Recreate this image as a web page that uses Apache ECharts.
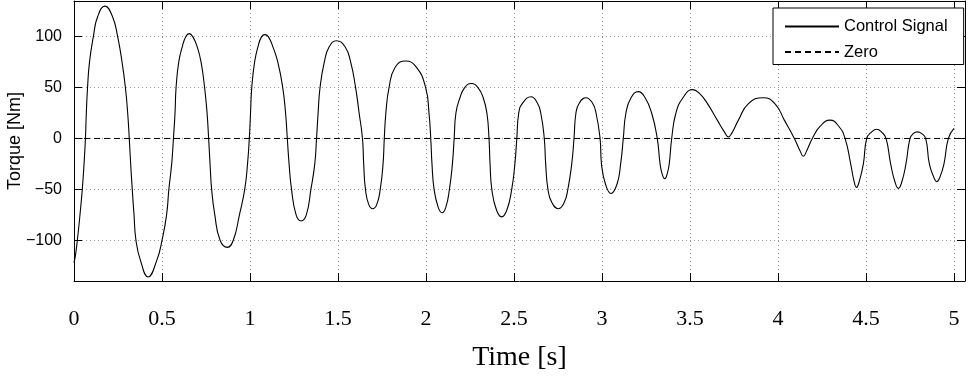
<!DOCTYPE html>
<html>
<head>
<meta charset="utf-8">
<script src="https://cdn.jsdelivr.net/npm/echarts@6/dist/echarts.min.js"></script>
<style>
html,body{margin:0;padding:0;background:#fff;}
#chart{width:973px;height:382px;}
</style>
</head>
<body>
<div id="chart"></div>
<script>
// Control signal samples (time in s, torque in Nm)
var timeS = [
0.000,0.008,0.019,0.034,0.047,0.057,0.065,0.070,0.077,0.088,0.110,0.135,0.176,0.218,0.248,0.273,0.292,0.305,0.314,0.322,0.331,0.341,0.352,0.378,0.421,0.470,0.500,0.526,0.539,0.555,0.565,0.574,0.580,0.595,0.615,0.635,0.655,0.675,0.700,0.722,0.742,0.756,0.765,0.773,0.782,0.800,0.830,0.871,0.905,0.940,0.970,0.986,0.996,1.003,1.010,1.026,1.045,1.066,1.085,1.104,1.130,1.158,1.186,1.202,1.212,1.222,1.236,1.262,1.290,1.320,1.346,1.368,1.378,1.387,1.398,1.422,1.450,1.491,1.540,1.572,1.600,1.620,1.639,1.646,1.656,1.675,1.697,1.720,1.740,1.756,1.763,1.772,1.790,1.825,1.884,1.945,1.998,2.017,2.027,2.034,2.046,2.070,2.091,2.112,2.133,2.150,2.160,2.170,2.193,2.220,2.257,2.295,2.325,2.346,2.358,2.364,2.374,2.400,2.430,2.460,2.487,2.505,2.516,2.527,2.550,2.597,2.632,2.652,2.672,2.680,2.693,2.715,2.752,2.785,2.806,2.828,2.841,2.852,2.872,2.909,2.945,2.966,2.989,2.997,3.020,3.051,3.085,3.106,3.121,3.136,3.165,3.207,3.245,3.282,3.314,3.330,3.342,3.357,3.370,3.382,3.396,3.420,3.460,3.515,3.555,3.600,3.655,3.697,3.718,3.740,3.775,3.831,3.917,3.983,4.036,4.093,4.125,4.144,4.163,4.195,4.240,4.295,4.345,4.381,4.413,4.432,4.446,4.462,4.485,4.504,4.530,4.561,4.590,4.614,4.640,4.665,4.684,4.703,4.727,4.750,4.770,4.792,4.815,4.839,4.860,4.885,4.902,4.920,4.943,4.968,5.000
];
var torqueNm = [
-122,-115,-100,-75,-50,-25,0,25,50,75,100,120,130,120,100,75,50,25,0,-25,-50,-75,-100,-120,-136,-120,-100,-75,-50,-25,0,25,50,75,90,100,103,100,90,75,50,25,0,-25,-50,-75,-100,-107,-100,-75,-50,-25,0,25,50,75,90,100,102,100,90,75,50,25,0,-25,-50,-75,-81,-75,-50,-25,0,25,50,75,90,96,90,75,50,25,0,-25,-50,-65,-69,-65,-50,-25,0,25,50,70,76,70,50,25,0,-25,-50,-68,-73,-68,-50,-25,0,25,40,50,54,50,40,25,0,-25,-50,-70,-77,-70,-50,-25,0,25,35,41,35,25,0,-25,-50,-63,-69,-63,-50,-25,0,25,35,40,35,25,0,-25,-45,-54,-45,-25,0,25,40,46,40,25,0,-25,-35,-39.5,-35,-25,0,25,40,48,44,34,18,6,1.5,6,18,34,40,34,18,0,-12,-17.5,-12,0,12,18,12,0,-25,-42,-48,-42,-25,0,6,9,6,0,-25,-43,-49,-43,-25,0,5,6.5,5,0,-25,-38,-42.5,-38,-25,0,9.8
];
// Zero reference line
var zeroTime = [0, 5.0625];
var zeroValue = [0, 0];
// Axis ranges and tick labels
var xRange = [0, 5.0625];
var yRange = [-140, 135];
var xTickLabels = ['0','0.5','1','1.5','2','2.5','3','3.5','4','4.5','5'];
var yTickLabels = ['\u2212100','\u221250','0','50','100'];
var xTickValues = [0,0.5,1,1.5,2,2.5,3,3.5,4,4.5,5];
var yTickValues = [-100,-50,0,50,100];

function pair(a, b) { return a.map(function (v, i) { return [v, b[i]]; }); }
function labelFor(values, labels) {
  return function (v) {
    for (var i = 0; i < values.length; i++) if (Math.abs(values[i] - v) < 1e-9) return labels[i];
    return '';
  };
}

var chart = echarts.init(document.getElementById('chart'), null, {renderer: 'canvas'});
var gridLine = {show: true, lineStyle: {color: '#9a9a9a', width: 1, type: [1, 3]}};
var frame = {show: true, onZero: false, lineStyle: {color: '#000', width: 1}};
var ticksIn = {show: true, inside: true, length: 8, lineStyle: {color: '#000', width: 1}};

chart.setOption({
  animation: false,
  backgroundColor: '#fff',
  grid: {left: 74, right: 8, top: 1, bottom: 101, containLabel: false, outerBoundsMode: 'none'},
  legend: {
    orient: 'vertical', left: 773, top: 8,
    padding: [10, 16, 4, 11],
    itemWidth: 54, itemHeight: 16, itemGap: 8.5,
    itemStyle: {opacity: 0},
    backgroundColor: '#fff', borderColor: '#000', borderWidth: 1, borderRadius: 0,
    textStyle: {fontFamily: 'Liberation Sans, Arial, sans-serif', fontSize: 16.5, color: '#000', lineHeight: 16},
    data: ['Control Signal', 'Zero']
  },
  xAxis: [{
    type: 'value', min: xRange[0], max: xRange[1], splitNumber: 10,
    position: 'bottom',
    axisLine: frame, axisTick: ticksIn, splitLine: gridLine,
    axisLabel: {show: true, margin: 27, showMaxLabel: false, color: '#000',
      fontFamily: 'Liberation Serif, Times New Roman, serif', fontSize: 22,
      formatter: labelFor(xTickValues, xTickLabels)},
    name: 'Time [s]', nameLocation: 'middle', nameGap: 63, nameMoveOverlap: false,
    nameTextStyle: {fontFamily: 'Liberation Serif, Times New Roman, serif', fontSize: 28, color: '#000'}
  }, {
    type: 'value', min: xRange[0], max: xRange[1], splitNumber: 10,
    position: 'top',
    axisLine: frame, axisTick: ticksIn, splitLine: {show: false}, axisLabel: {show: false}
  }],
  yAxis: [{
    type: 'value', min: yRange[0], max: yRange[1], splitNumber: 5,
    position: 'left',
    axisLine: frame, axisTick: ticksIn, splitLine: gridLine,
    axisLabel: {show: true, margin: 12, showMinLabel: false, showMaxLabel: false, color: '#000',
      fontFamily: 'Liberation Sans, Arial, sans-serif', fontSize: 16,
      formatter: labelFor(yTickValues, yTickLabels)},
    name: 'Torque [Nm]', nameLocation: 'middle', nameGap: 50, nameRotate: 90, nameMoveOverlap: false,
    nameTextStyle: {fontFamily: 'Liberation Sans, Arial, sans-serif', fontSize: 18, color: '#000'}
  }, {
    type: 'value', min: yRange[0], max: yRange[1], splitNumber: 5,
    position: 'right',
    axisLine: frame, axisTick: ticksIn, splitLine: {show: false}, axisLabel: {show: false}
  }],
  series: [{
    name: 'Control Signal', type: 'line', xAxisIndex: 0, yAxisIndex: 0,
    data: pair(timeS, torqueNm), showSymbol: false, symbol: 'none',
    smooth: 0.5,
    lineStyle: {color: '#000', width: 1.1}, itemStyle: {color: '#000'}, z: 3
  }, {
    name: 'Zero', type: 'line', xAxisIndex: 0, yAxisIndex: 0,
    data: pair(zeroTime, zeroValue), showSymbol: false, symbol: 'none',
    lineStyle: {color: '#000', width: 1, type: [6, 4]}, itemStyle: {color: '#000'}, z: 2
  }]
});
</script>
</body>
</html>
